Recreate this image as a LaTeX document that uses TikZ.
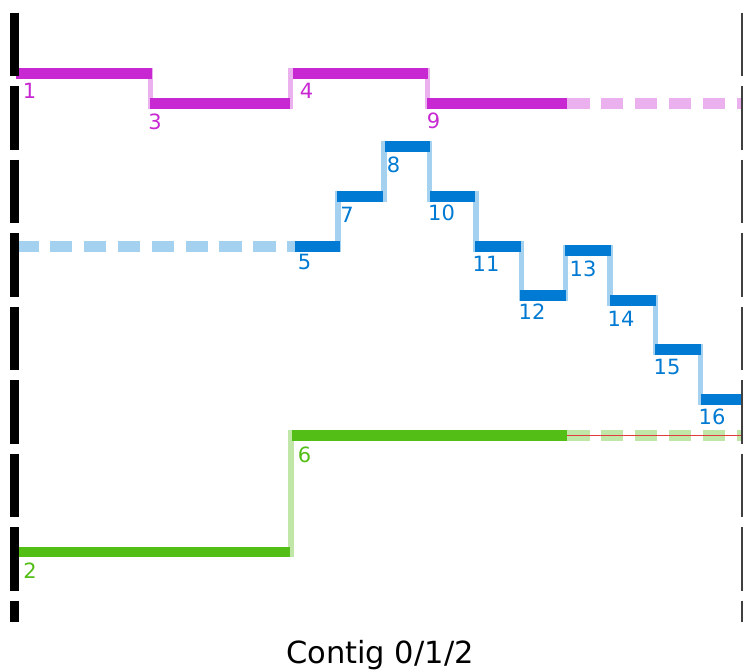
\documentclass[tikz,border=0pt]{standalone}
\usepackage{fontspec}
\setmainfont{DejaVu Sans}
\definecolor{mag}{HTML}{C828D2}
\definecolor{magl}{HTML}{EBB0EE}
\definecolor{blu}{HTML}{007AD2}
\definecolor{blul}{HTML}{A5D1F0}
\definecolor{grn}{HTML}{52BE16}
\definecolor{grnl}{HTML}{C0E6A8}
\definecolor{redl}{HTML}{E03C3C}
\begin{document}
\begin{tikzpicture}[x=1pt,y=-1pt,
  seg/.style={line width=10.8pt},
  conn/.style={line width=5.5pt},
  dsh/.style={line width=11pt, dash pattern=on 22.5pt off 11.4pt},
  lab/.style={inner sep=0pt, font=\fontsize{21}{21}\selectfont},
  bar/.style={line width=9pt, dash pattern=on 63.5pt off 10pt}]
\useasboundingbox (0,0) rectangle (743,670);
% magenta track
\draw[magl,conn] (150.5,68.3) -- (150.5,109.3);
\draw[magl,conn] (290.5,68.3) -- (290.5,109.3);
\draw[magl,conn] (427.5,68.3) -- (427.5,109.3);
\draw[magl,dsh] (567,103.8) -- (743,103.8);
\draw[mag,seg] (16,73.8) -- (152,73.8);
\draw[mag,seg] (150,103.8) -- (290,103.8);
\draw[mag,seg] (293,73.8) -- (428,73.8);
\draw[mag,seg] (427,103.8) -- (567,103.8);
% blue track
\draw[blul,dsh] (16,246.2) -- (295,246.2);
\draw[blul,conn] (338,190.7) -- (338,251.7);
\draw[blul,conn] (384,140.7) -- (384,202);
\draw[blul,conn] (429.5,140.7) -- (429.5,201.7);
\draw[blul,conn] (476,190.7) -- (476,251.7);
\draw[blul,conn] (521.5,240.7) -- (521.5,301);
\draw[blul,conn] (565.5,245) -- (565.5,301);
\draw[blul,conn] (610,245) -- (610,305.7);
\draw[blul,conn] (655.5,295) -- (655.5,355);
\draw[blul,conn] (700.5,344) -- (700.5,405);
\draw[blu,seg] (295,246.2) -- (340,246.2);
\draw[blu,seg] (337,196.3) -- (383,196.3);
\draw[blu,seg] (385,146.3) -- (430,146.3);
\draw[blu,seg] (430,196.2) -- (475,196.2);
\draw[blu,seg] (475,246.2) -- (521,246.2);
\draw[blu,seg] (520,295.5) -- (566,295.5);
\draw[blu,seg] (565,250.5) -- (611,250.5);
\draw[blu,seg] (610,300.3) -- (656,300.3);
\draw[blu,seg] (655,349.5) -- (701,349.5);
\draw[blu,seg] (701,399.5) -- (743,399.5);
% green track
\draw[grnl,conn] (291,430) -- (291,557);
\draw[grnl,dsh] (567,435.5) -- (743,435.5);
\draw[grn,seg] (16,552) -- (290,552);
\draw[grn,seg] (292,435.5) -- (567,435.5);
\draw[redl,line width=1.4pt] (567,435.7) -- (743,435.7);
% side bars
\draw[black,bar] (14.5,12.5) -- (14.5,622);
\draw[black!75,line width=2pt,dash pattern=on 63.5pt off 10pt] (742,12.5) -- (742,622);
% labels
\node[lab,text=mag] (l1) at (29.5,91) {1};
\node[lab,text=mag] (l3) at (155,121.5) {3};
\node[lab,text=mag] (l4) at (306.5,91) {4};
\node[lab,text=mag] (l9) at (433.5,121) {9};
\node[lab,text=blu] (l5) at (304.5,262) {5};
\node[lab,text=blu] (l7) at (347,214.5) {7};
\node[lab,text=blu] (l8) at (393.5,164.5) {8};
\node[lab,text=blu] (l10) at (441.5,212.5) {10};
\node[lab,text=blu] (l11) at (486,263.5) {11};
\node[lab,text=blu] (l12) at (532,311.5) {12};
\node[lab,text=blu] (l13) at (583,268.5) {13};
\node[lab,text=blu] (l14) at (621,318.5) {14};
\node[lab,text=blu] (l15) at (667,366.5) {15};
\node[lab,text=blu] (l16) at (712,416.5) {16};
\node[lab,text=grn] (l2) at (30,571) {2};
\node[lab,text=grn] (l6) at (304.5,455) {6};
\node[inner sep=0pt, anchor=base, font=\fontsize{30.5}{30.5}\selectfont] (title) at (380,663) {Contig 0/1/2};
\end{tikzpicture}
\end{document}
